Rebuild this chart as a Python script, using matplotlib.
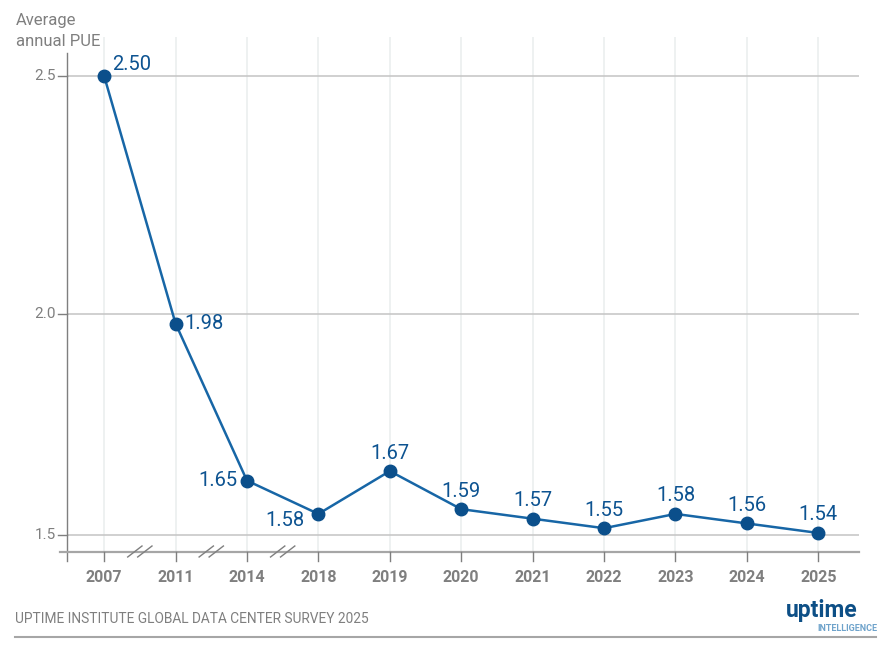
import matplotlib
matplotlib.use("Agg")
import matplotlib.pyplot as plt
from matplotlib.lines import Line2D

years = ["2007", "2011", "2014", "2018", "2019", "2020", "2021", "2022", "2023", "2024", "2025"]
pue = [2.50, 1.98, 1.65, 1.58, 1.67, 1.59, 1.57, 1.55, 1.58, 1.56, 1.54]
ytick_vals = [1.535, 2.0, 2.5]
ytick_labels = ["1.5", "2.0", "2.5"]
breaks_after = [0, 1, 2]  # axis breaks between these categories and the next

plt.rcParams['font.family'] = ['Roboto', 'DejaVu Sans']

GREY = "#7f7f7f"
LINE = "#1766a6"
MARK = "#0b4f8b"
LABEL = "#0d5391"

fig = plt.figure(figsize=(8.87, 6.5), dpi=100)
ax = fig.add_axes([67/887, 1-552/650, (859-67)/887, (552-37)/650])

x = list(range(len(years)))
ax.set_xlim(-0.52, 10.57)
ax.set_ylim(1.5, 2.5 + 39/476)

# gridlines
for xi in x:
    ax.axvline(xi, color="#e9eded", lw=1.1, zorder=0)
for yv in ytick_vals:
    ax.axhline(yv, color="#c8c8c8", lw=1.2, zorder=1)

ax.plot(x, pue, color=LINE, lw=1.8, zorder=3)
ax.plot(x, pue, 'o', color=MARK, ms=9, zorder=4)

for s in ax.spines.values():
    s.set_visible(False)
ax.set_xticks([])
ax.set_yticks([])

# left spine (extended)
trans = ax.get_xaxis_transform()
ax.add_line(Line2D([0, 0], [-9/515, 1 - 16/515], transform=ax.transAxes,
                   color=GREY, lw=1.0, clip_on=False))
# bottom axis line
ax.add_line(Line2D([-7/792, 1.0], [0, 0], transform=ax.transAxes,
                   color="#a6a6a6", lw=1.6, clip_on=False))
# x ticks & labels
for xi, yl in zip(x, years):
    ax.add_line(Line2D([xi, xi], [0, -9/515], transform=trans, color=GREY, lw=1.0, clip_on=False))
    ax.text(xi, -25/515, yl, transform=trans, ha="center", va="center",
            fontsize=11.5, fontweight="bold", color=GREY)
# y ticks & labels
ytrans = ax.get_yaxis_transform()
for yv, yl in zip(ytick_vals, ytick_labels):
    ax.add_line(Line2D([-9/792, 0], [yv, yv], transform=ytrans, color=GREY, lw=1.0, clip_on=False))
    ax.text(-11/792, yv, yl, transform=ytrans, ha="right", va="center",
            fontsize=11, color=GREY)

# axis breaks
for b in breaks_after:
    xm = b + 0.5
    for dx in (-0.07, 0.07):
        ax.add_line(Line2D([xm + dx - 0.1, xm + dx + 0.1], [-5/515, 6/515], transform=trans,
                           color=GREY, lw=1.0, clip_on=False))

# data labels
offsets = {0: (8, 12, "left", "center"), 1: (9, 0, "left", "center"),
           2: (-10, 0, "right", "center"), 3: (-14, -7, "right", "center")}
for i, v in enumerate(pue):
    lab = f"{v:.2f}"
    if i in offsets:
        dx, dy, ha, va = offsets[i]
    else:
        dx, dy, ha, va = (0, 18, "center", "center")
    ax.annotate(lab, (i, v), xytext=(dx * 0.72, dy * 0.72), textcoords="offset points",
                ha=ha, va=va, fontsize=14.5, color=LABEL, zorder=5)

# y label
fig.text(16/887, 1-21/650, "Average", ha="left", va="center", fontsize=12, color=GREY)
fig.text(16/887, 1-41/650, "annual PUE", ha="left", va="center", fontsize=12, color=GREY)

# footer
fig.text(15/887, 1-619/650, "UPTIME INSTITUTE GLOBAL DATA CENTER SURVEY 2025",
         ha="left", va="center", fontsize=9.9, color=GREY)
fig.add_artist(Line2D([15/887, 876/887], [1-637/650, 1-637/650], color="#a6a6a6", lw=1.5))
fig.text(858/887, 1-611/650, "uptime", ha="right", va="center", fontsize=16.5,
         fontweight="bold", color="#0d4f86")
fig.text(877/887, 1-628.5/650, "INTELLIGENCE", ha="right", va="center", fontsize=6.5,
         fontweight="bold", color="#6fa3cb")

fig.savefig("out.png", dpi=100)
